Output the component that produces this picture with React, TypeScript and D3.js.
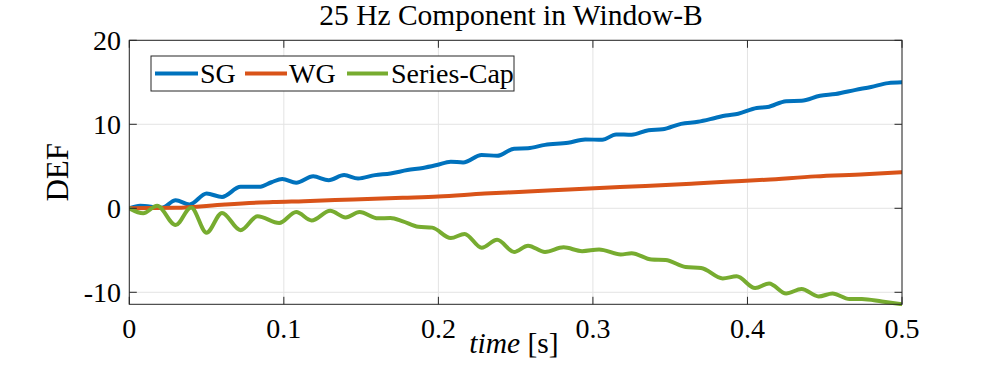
import React from 'react'
import * as d3 from 'd3'

const sgT = [0, 0.007, 0.021, 0.030, 0.039, 0.050, 0.060, 0.072, 0.084, 0.092, 0.099, 0.108, 0.119, 0.129, 0.139, 0.148, 0.159, 0.169, 0.180, 0.190, 0.199, 0.208, 0.216, 0.228, 0.238, 0.249, 0.258, 0.269, 0.284, 0.295, 0.306, 0.315, 0.325, 0.336, 0.345, 0.357, 0.368, 0.379, 0.386, 0.394, 0.406, 0.413, 0.425, 0.435, 0.447, 0.457, 0.470, 0.480, 0.491, 0.500]
const sgV = [0, 0.3, 0.05, 0.95, 0.45, 1.75, 1.35, 2.55, 2.55, 3.1, 3.5, 3.05, 3.8, 3.35, 3.95, 3.55, 3.95, 4.15, 4.55, 4.8, 5.15, 5.55, 5.45, 6.35, 6.25, 7.1, 7.15, 7.55, 7.8, 8.2, 8.15, 8.8, 8.75, 9.3, 9.4, 10.05, 10.3, 10.75, 11.05, 11.25, 11.95, 12.05, 12.75, 12.8, 13.4, 13.6, 14.1, 14.45, 14.9, 15.0]

// WG (orange)
const wgT = [0, 0.030, 0.062, 0.093, 0.113, 0.145, 0.177, 0.200, 0.230, 0.252, 0.274, 0.301, 0.334, 0.366, 0.386, 0.412, 0.444, 0.476, 0.500]
const wgV = [0, 0.05, 0.45, 0.75, 0.85, 1.05, 1.25, 1.4, 1.75, 1.95, 2.15, 2.4, 2.65, 2.95, 3.15, 3.4, 3.8, 4.05, 4.3]

// Series-Cap (green)
const scT = [0, 0.009, 0.018, 0.030, 0.040, 0.050, 0.060, 0.072, 0.083, 0.097, 0.108, 0.118, 0.130, 0.140, 0.149, 0.161, 0.169, 0.177, 0.187, 0.196, 0.208, 0.217, 0.228, 0.238, 0.249, 0.258, 0.269, 0.281, 0.293, 0.304, 0.318, 0.325, 0.338, 0.347, 0.360, 0.370, 0.384, 0.393, 0.405, 0.414, 0.425, 0.435, 0.446, 0.455, 0.466, 0.474, 0.487, 0.500]
const scV = [0, -0.6, 0.3, -2.0, 0.1, -2.9, -0.55, -2.6, -0.95, -1.75, -0.45, -1.45, -0.3, -1.1, -0.45, -1.2, -1.15, -1.55, -2.2, -2.3, -3.55, -3.05, -4.7, -3.75, -5.2, -4.45, -5.2, -4.65, -5.1, -4.9, -5.5, -5.35, -6.1, -6.15, -7.0, -7.1, -8.35, -8.1, -9.5, -8.95, -10.15, -9.6, -10.5, -10.15, -10.8, -10.8, -11.1, -11.43]

const seriesNames = ['SG', 'WG', 'Series-Cap']
const seriesColors = ['#0072BD', '#D95319', '#77AC30']
const xTicks = [0, 0.1, 0.2, 0.3, 0.4, 0.5]
const yTicks = [-10, 0, 10, 20]

const W = 997, H = 368
const L = 129.3, R = 902, T = 40.3, B = 304.3
const FONT = '"Liberation Serif", "Times New Roman", serif'
const AX = '#262626'
const GRID = '#e3e3e3'

export default function App() {
  const x = d3.scaleLinear().domain([0, 0.5]).range([L, R])
  const y = d3.scaleLinear().domain([-11.43, 20]).range([B, T])
  const line = d3.line<[number, number]>().x(d => x(d[0])).y(d => y(d[1])).curve(d3.curveMonotoneX)
  const series = [
    sgT.map((t, i) => [t, sgV[i]] as [number, number]),
    wgT.map((t, i) => [t, wgV[i]] as [number, number]),
    scT.map((t, i) => [t, scV[i]] as [number, number]),
  ]
  const tick = 7.5
  const fmt = (v: number) => (v === 0 ? '0' : String(v))

  // legend layout
  const lgX = 151, lgY = 56, lgW = 363, lgH = 35
  const lgItems = [
    { x0: 155, x1: 198, tx: 200 },
    { x0: 245, x1: 287, tx: 289 },
    { x0: 347, x1: 388, tx: 391 },
  ]

  return (
    <svg width={W} height={H} style={{ position: 'absolute', left: 0, top: 0, background: '#fff' }} fontFamily={FONT}>
      <rect x={0} y={0} width={W} height={H} fill="#fff" />
      {/* grid */}
      {xTicks.map(t => (
        <line key={'gx' + t} x1={x(t)} x2={x(t)} y1={T} y2={B} stroke={GRID} strokeWidth={1} />
      ))}
      {yTicks.map(t => (
        <line key={'gy' + t} x1={L} x2={R} y1={y(t)} y2={y(t)} stroke={GRID} strokeWidth={1} />
      ))}
      {/* data */}
      <g clipPath="url(#clip)">
        {series.map((s, i) => (
          <path key={i} d={line(s) || ''} fill="none" stroke={seriesColors[i]} strokeWidth={4} strokeLinejoin="round" strokeLinecap="round" />
        ))}
      </g>
      <defs>
        <clipPath id="clip">
          <rect x={L} y={T} width={R - L} height={B - T + 2} />
        </clipPath>
      </defs>
      {/* box + ticks */}
      <rect x={L} y={T} width={R - L} height={B - T} fill="none" stroke={AX} strokeWidth={1} />
      {xTicks.map(t => (
        <g key={'tx' + t}>
          <line x1={x(t)} x2={x(t)} y1={B} y2={B - tick} stroke={AX} />
          <line x1={x(t)} x2={x(t)} y1={T} y2={T + tick} stroke={AX} />
          <text x={x(t)} y={338} textAnchor="middle" fontSize={28} fill="#000">{fmt(t)}</text>
        </g>
      ))}
      {yTicks.map(t => (
        <g key={'ty' + t}>
          <line x1={L} x2={L + tick} y1={y(t)} y2={y(t)} stroke={AX} />
          <line x1={R} x2={R - tick} y1={y(t)} y2={y(t)} stroke={AX} />
          <text x={121} y={y(t) + 9.5} textAnchor="end" fontSize={28} fill="#000">{fmt(t)}</text>
        </g>
      ))}
      {/* title */}
      <text x={511} y={25} textAnchor="middle" fontSize={29.5} fill="#000">25 Hz Component in Window-B</text>
      {/* x label */}
      <text x={514} y={353} textAnchor="middle" fontSize={29.5} fill="#000">
        <tspan fontStyle="italic">time</tspan> [s]
      </text>
      {/* y label */}
      <text transform={`translate(68,${(T + B) / 2}) rotate(-90)`} textAnchor="middle" fontSize={31} fill="#000">DEF</text>
      {/* legend */}
      <rect x={lgX} y={lgY} width={lgW} height={lgH} fill="#fff" stroke={AX} strokeWidth={1} />
      {seriesNames.map((n, i) => (
        <g key={n}>
          <line x1={lgItems[i].x0} x2={lgItems[i].x1} y1={lgY + lgH / 2} y2={lgY + lgH / 2} stroke={seriesColors[i]} strokeWidth={4} />
          <text x={lgItems[i].tx} y={lgY + lgH / 2 + 9.5} fontSize={28} fill="#000">{n}</text>
        </g>
      ))}
    </svg>
  )
}
